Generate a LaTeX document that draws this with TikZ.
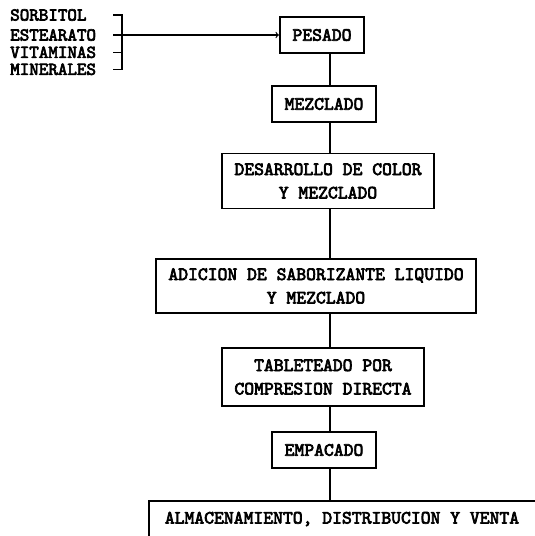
\documentclass[tikz,border=0pt]{standalone}
\usepackage{fontspec}
\setmonofont{lmmono10-regular}[Extension=.otf, AutoFakeBold=3.6]
\usepackage{tikz}
\usetikzlibrary{arrows,positioning,calc}

\begin{document}
\begin{tikzpicture}[
        procbox/.style={rectangle, draw=black, line width=1.5pt, inner xsep=0.38cm, minimum height=1.08cm, align=center, font=\fontsize{16}{20}\selectfont\ttfamily\bfseries},
        ingred/.style={anchor=west, inner sep=0pt, font=\fontsize{15.5}{17}\selectfont\ttfamily\bfseries},
        link/.style={line width=1.5pt},
        arrow/.style={->, line width=1pt, >=to}
    ]
    \useasboundingbox (0,0) rectangle (16.02,-16.08);

    % Ingredients (left side)
    \node[ingred] (sorbitol) at (0.3, -0.45) {SORBITOL};
    \node[ingred] (estearato) at (0.3, -1.05) {ESTEARATO};
    \node[ingred] (vitaminas) at (0.3, -1.57) {VITAMINAS};
    \node[ingred] (minerales) at (0.3, -2.08) {MINERALES};
    \coordinate (brace) at (3.66, 0);

    % Process steps
    \node[procbox] (pesado) at (9.66, -1.05) {PESADO};
    \node[procbox] (mezclado) at (9.72, -3.12) {MEZCLADO};
    \node[procbox, minimum height=1.65cm] (desarrollo) at (9.84, -5.43) {DESARROLLO DE COLOR\\Y MEZCLADO};
    \node[procbox, minimum height=1.6cm] (adicion) at (9.48, -8.58) {ADICION DE SABORIZANTE LIQUIDO\\Y MEZCLADO};
    \node[procbox, minimum height=1.75cm] (tableteado) at (9.69, -11.31) {TABLETEADO POR\\COMPRESION DIRECTA};
    \node[procbox] (empacado) at (9.72, -13.5) {EMPACADO};
    \node[procbox, draw=none, minimum width=11.52cm, minimum height=1.02cm] (final) at (10.26, -15.57) {ALMACENAMIENTO, DISTRIBUCION Y VENTA};
    \coordinate (spine) at (9.9, 0);

    % Bracket joining the ingredients
    \draw[link, line width=1.1pt] ($(brace |- sorbitol)+(-0.27,0)$) -- (brace |- sorbitol) -- (brace |- minerales) -- ++(-0.27,0);
    \draw[link, line width=1.1pt] ($(brace |- vitaminas)+(-0.27,0)$) -- (brace |- vitaminas);
    \draw[arrow] ($(brace |- estearato)+(-0.27,0)$) -- (pesado.west);

    % Flow down the steps
    \draw[link] (pesado.south -| spine) -- (mezclado.north -| spine);
    \draw[link] (mezclado.south -| spine) -- (desarrollo.north -| spine);
    \draw[link] (desarrollo.south -| spine) -- (adicion.north -| spine);
    \draw[link] (adicion.south -| spine) -- (tableteado.north -| spine);
    \draw[link] (tableteado.south -| spine) -- (empacado.north -| spine);
    \draw[link] (empacado.south -| spine) -- (final.north -| spine);

    % Last box, open at the page edge
    \draw[link] (final.south west) -- (final.north west) -- (final.north east);

\end{tikzpicture}
\end{document}
